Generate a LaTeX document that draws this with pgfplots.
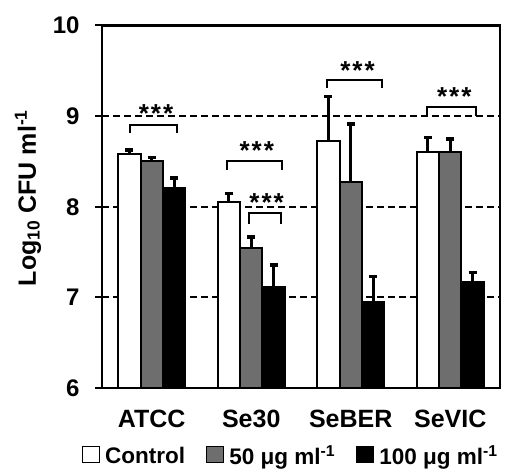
\documentclass[border=0pt]{standalone}
\usepackage{fontspec}
\setmainfont{Liberation Sans}
\usepackage{pgfplots}
\pgfplotsset{compat=1.18}
\definecolor{midgray}{RGB}{110,110,110}
\pgfplotsset{
  myleg/.style={legend image code/.code={\draw[line width=1.2pt,draw=black,fill=##1] (0pt,-7pt) rectangle (17pt,9pt);}},
  myerr/.style={error bars/.cd, y dir=plus, y explicit,
    error bar style={line width=3pt,black},
    error mark options={rotate=90,mark size=4pt,line width=3.5pt,black}},
}
\begin{document}
\begin{tikzpicture}
\begin{axis}[
  scale only axis, width=398pt, height=362.5pt,
  xmin=-0.5, xmax=3.5, ymin=6, ymax=10,
  ybar=0pt, bar width=22.3pt,
  xtick={0,1,2,3}, xticklabels={ATCC,Se30,SeBER,SeVIC},
  ytick={6,7,8,9,10},
  major x tick style={draw=none},
  ytick pos=left, tick align=outside, major tick length=7pt,
  major y tick style={line width=2pt,black},
  ymajorgrids, grid style={black, line width=1.8pt, dash pattern=on 7pt off 4pt},
  axis line style={line width=2.5pt},
  /pgf/number format/assume math mode=true,
  yticklabel style={font=\bfseries\fontsize{24}{28}\selectfont, xshift=-12pt},
  xticklabel style={font=\bfseries\fontsize{25}{29}\selectfont, yshift=-12pt},
  ylabel={Log\textsubscript{10} CFU ml\textsuperscript{-1}},
  ylabel style={font=\bfseries\fontsize{25}{29}\selectfont, at={(axis description cs:-0.186,0.524)}, anchor=center, rotate=0},
  legend style={at={(axis description cs:0.478,-0.187)}, anchor=center, draw=none, fill=none,
    legend columns=3, font=\bfseries\fontsize{22.5}{26}\selectfont,
    /tikz/every even column/.append style={column sep=16pt},
    nodes={inner xsep=5pt, inner ysep=1pt}},
]
\addplot+[draw=black, line width=2pt, fill=white, myleg, myerr] coordinates {
 (0,8.58) +- (0,0.045)
 (1,8.05) +- (0,0.095)
 (2,8.73) +- (0,0.485)
 (3,8.60) +- (0,0.165)
};
\addplot+[draw=black, line width=2pt, fill=midgray, myleg, myerr] coordinates {
 (0,8.51) +- (0,0.035)
 (1,7.55) +- (0,0.115)
 (2,8.27) +- (0,0.645)
 (3,8.60) +- (0,0.145)
};
\addplot+[draw=black, line width=2pt, fill=black, myleg, myerr] coordinates {
 (0,8.205) +- (0,0.11)
 (1,7.12) +- (0,0.235)
 (2,6.944) +- (0,0.285)
 (3,7.175) +- (0,0.10)
};
\legend{Control, 50 μg ml\textsuperscript{-1}, 100 μg ml\textsuperscript{-1}}
\begin{scope}[line width=2pt]
\draw (axis cs:-0.219,8.81) -- (axis cs:-0.219,8.906) -- (axis cs:0.25,8.906) -- (axis cs:0.25,8.81);
\draw (axis cs:0.756,8.41) -- (axis cs:0.756,8.503) -- (axis cs:1.312,8.503) -- (axis cs:1.312,8.41);
\draw (axis cs:0.98,7.81) -- (axis cs:0.98,7.93) -- (axis cs:1.296,7.93) -- (axis cs:1.296,7.81);
\draw (axis cs:1.758,9.31) -- (axis cs:1.758,9.396) -- (axis cs:2.311,9.396) -- (axis cs:2.311,9.31);
\draw (axis cs:2.763,9.005) -- (axis cs:2.763,9.10) -- (axis cs:3.256,9.10) -- (axis cs:3.256,9.005);
\end{scope}
\tikzset{stars/.style={anchor=base, inner sep=0pt, font=\bfseries\fontsize{26}{30}\selectfont}}
\node[stars] at (axis cs:0.043,8.93) {*\kern2pt*\kern2pt*};
\node[stars] at (axis cs:1.055,8.52) {*\kern2pt*\kern2pt*};
\node[stars] at (axis cs:1.155,7.95) {*\kern2pt*\kern2pt*};
\node[stars] at (axis cs:2.068,9.40) {*\kern2pt*\kern2pt*};
\node[stars] at (axis cs:3.04,9.12) {*\kern2pt*\kern2pt*};
\coordinate (bl) at ([xshift=-102pt,yshift=-83pt]current axis.south west);
\coordinate (tr) at ([xshift=5pt,yshift=25.5pt]current axis.north east);
\end{axis}
\pgfresetboundingbox
\path[use as bounding box] (bl) rectangle (tr);
\end{tikzpicture}
\end{document}
